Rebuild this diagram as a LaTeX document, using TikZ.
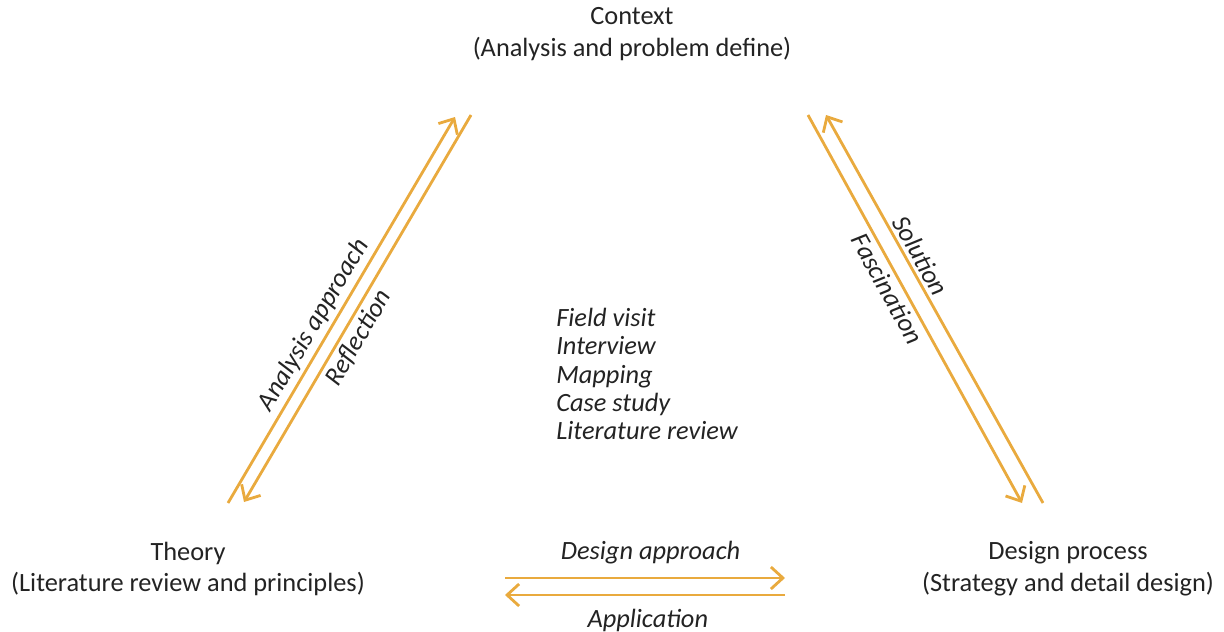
\documentclass[tikz,border=0pt]{standalone}
\usepackage{fontspec}
\setmainfont{Carlito}
\usepackage{xcolor}
\definecolor{trorange}{RGB}{233,170,62}
\definecolor{trtext}{RGB}{35,35,35}
\usetikzlibrary{arrows.meta}
\tikzset{
  pole/.style={align=center, font=\fontsize{15}{18}\selectfont, text=trtext, inner sep=0pt},
  meth/.style={align=left, font=\fontsize{15}{16}\selectfont\itshape, text=trtext, inner sep=0pt},
  lbl/.style={font=\fontsize{15}{16}\selectfont\itshape, text=trtext, sloped, inner sep=2pt},
  arr/.style={-{Straight Barb[length=2.4mm,width=4.4mm]}, draw=trorange, line width=1.6pt}
}
\begin{document}
\begin{tikzpicture}[x=0.02cm, y=-0.02cm]
  \useasboundingbox (0,0) rectangle (1224,632);
  \node[pole] (ctx) at (632,34) {Context\\(Analysis and problem define)};
  \node[pole] (thy) at (188,569) {Theory\\(Literature review and principles)};
  \node[pole] (dsg) at (1068,569) {Design process\\(Strategy and detail design)};
  \node[meth, anchor=west] (meth) at (556,374) {Field visit\\Interview\\Mapping\\Case study\\Literature review};
  \coordinate (thyup) at (228,503);
  \coordinate (ctxin) at (455,117);
  \coordinate (ctxout) at (471,115);
  \coordinate (thyin) at (244,502);
  \coordinate (ctxdn) at (808,115);
  \coordinate (dsgin) at (1022,503);
  \coordinate (dsgup) at (1043,503);
  \coordinate (ctxret) at (826,115);
  \coordinate (appr1) at (505,578);
  \coordinate (appr2) at (785,578);
  \coordinate (appl1) at (785,595);
  \coordinate (appl2) at (505,595);
  \draw[arr] (thyup) -- node[lbl, above, pos=0.44] {Analysis approach} (ctxin);
  \draw[arr] (ctxout) -- node[lbl, below, pos=0.555] {Reflection} (thyin);
  \draw[arr] (ctxdn) -- node[lbl, below, pos=0.43] {Fascination} (dsgin);
  \draw[arr] (dsgup) -- node[lbl, above, pos=0.62] {Solution} (ctxret);
  \draw[arr] (appr1) -- node[lbl, above=5pt, pos=0.52] {Design approach} (appr2);
  \draw[arr] (appl1) -- node[lbl, below=5pt, pos=0.49] {Application} (appl2);
\end{tikzpicture}
\end{document}
